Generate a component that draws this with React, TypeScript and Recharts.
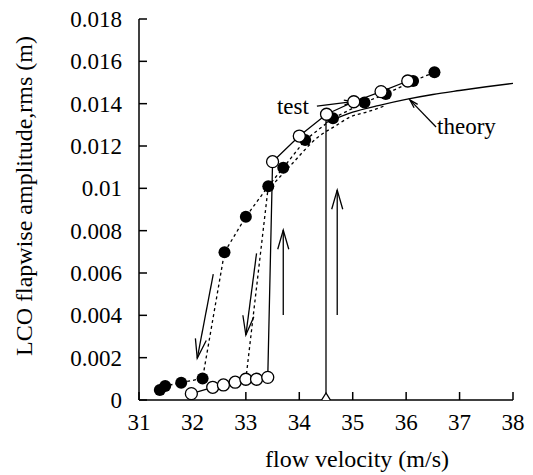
import { ComposedChart, Scatter, XAxis, YAxis, ReferenceLine, Label } from 'recharts';

const FONT = '"Liberation Serif", "Times New Roman", serif';

const xTicks = [31, 32, 33, 34, 35, 36, 37, 38];
const yTicks = [0, 0.002, 0.004, 0.006, 0.008, 0.01, 0.012, 0.014, 0.016, 0.018];
const yTickLabels = ['0', '0.002', '0.004', '0.006', '0.008', '0.01', '0.012', '0.014', '0.016', '0.018'];

// test, increasing speed (open circles, solid line)
const openVelocity = [31.98, 32.38, 32.58, 32.8, 33.0, 33.2, 33.41, 33.5, 34.0, 34.51, 35.02, 35.53, 36.03];
const openAmplitude = [0.0003, 0.0006, 0.00071, 0.00084, 0.00098, 0.00098, 0.00107, 0.01126, 0.01247, 0.0135, 0.01409, 0.01457, 0.01507];

// test, decreasing speed (filled circles, dashed line)
const filledVelocity = [36.53, 36.13, 35.62, 35.22, 34.63, 34.11, 33.7, 33.42, 33.0, 32.6, 32.19, 31.79, 31.49, 31.39];
const filledAmplitude = [0.01548, 0.01507, 0.01446, 0.01406, 0.01331, 0.01228, 0.01097, 0.0101, 0.00866, 0.00698, 0.00102, 0.00082, 0.00066, 0.00047];

// second drop-down branch
const dropVelocity = [33.42, 33.0];
const dropAmplitude = [0.0101, 0.00098];

// dashed branch below the test curves
const dashVelocity = [33.55, 33.88, 34.33, 34.71, 34.95, 35.27, 35.6];
const dashAmplitude = [0.0103, 0.0112, 0.01238, 0.013, 0.01337, 0.01361, 0.0139];

// theory
const theoryVelocity = [34.5, 35.0, 35.5, 36.0, 36.5, 37.0, 37.5, 38.0];
const theoryAmplitude = [0.0131, 0.0136, 0.01392, 0.0142, 0.01443, 0.01462, 0.0148, 0.01496];

const onsetVelocity = [34.5, 34.5];
const onsetAmplitude = [0, 0.0132];

// arrows: [x1, y1, x2, y2]
const hysteresisArrows = [
  [32.39, 0.00595, 32.09, 0.00197],
  [33.2, 0.00693, 33.0, 0.00307],
  [33.7, 0.00402, 33.7, 0.00803],
  [34.71, 0.00402, 34.71, 0.00992],
];
const testArrow = [34.33, 0.01388, 35.0, 0.0141];
const theoryArrow = [36.56, 0.0129, 36.07, 0.01418];

const pts = (xs: number[], ys: number[]) => xs.map((x, i) => ({ x, y: ys[i] }));

const filledDot = (p: any) => <circle cx={p.cx} cy={p.cy} r={6} fill="#000" />;
const openDot = (p: any) => <circle cx={p.cx} cy={p.cy} r={6} fill="#fff" stroke="#000" strokeWidth={1.3} />;
const noDot = () => <g />;
const triangleDot = (p: any) => (
  <polygon
    points={`${p.cx},${p.cy - 7} ${p.cx - 5},${p.cy + 1} ${p.cx + 5},${p.cy + 1}`}
    fill="#fff"
    stroke="#000"
    strokeWidth={1.3}
  />
);

function arrowShape(head: number, text?: string, side?: 'left' | 'right') {
  return (p: any) => {
    const { x1, y1, x2, y2 } = p;
    const ang = Math.atan2(y2 - y1, x2 - x1);
    const a = 0.28;
    const ax = x2 - head * Math.cos(ang - a);
    const ay = y2 - head * Math.sin(ang - a);
    const bx = x2 - head * Math.cos(ang + a);
    const by = y2 - head * Math.sin(ang + a);
    return (
      <g>
        <line x1={x1} y1={y1} x2={x2} y2={y2} stroke="#000" strokeWidth={1.3} />
        <polyline points={`${ax},${ay} ${x2},${y2} ${bx},${by}`} fill="none" stroke="#000" strokeWidth={1.3} />
        {text && (
          <text
            x={side === 'left' ? x1 - 8 : x1 + 1}
            y={y1}
            textAnchor={side === 'left' ? 'end' : 'start'}
            dominantBaseline="central"
            fontFamily={FONT}
            fontSize={23}
            fill="#000"
          >
            {text}
          </text>
        )}
      </g>
    );
  };
}

const seg = (a: number[]) => [{ x: a[0], y: a[1] }, { x: a[2], y: a[3] }];

export default function App() {
  const tickStyle = { fill: '#000', fontSize: 23, fontFamily: FONT };
  return (
    <div style={{ position: 'absolute', left: 0, top: 0, background: '#fff' }}>
      <ComposedChart width={533} height={475} margin={{ top: 19, right: 20, bottom: 0, left: 0 }}>
        <XAxis
          dataKey="x"
          type="number"
          domain={[31, 38]}
          ticks={xTicks}
          allowDataOverflow
          height={75}
          tickSize={-8}
          tickMargin={22}
          tick={tickStyle}
          stroke="#000"
          strokeWidth={1.5}
        >
          <Label
            content={({ viewBox }: any) => (
              <text
                x={viewBox.x + viewBox.width / 2 + 31}
                y={viewBox.y + viewBox.height - 8}
                textAnchor="middle"
                fontFamily={FONT}
                fontSize={24}
                fill="#000"
              >
                flow velocity (m/s)
              </text>
            )}
          />
        </XAxis>
        <XAxis
          xAxisId="top"
          orientation="top"
          dataKey="x"
          type="number"
          domain={[31, 38]}
          ticks={xTicks}
          allowDataOverflow
          height={0}
          tickSize={-8}
          tickFormatter={() => ''}
          stroke="#000"
          strokeWidth={1.5}
        />
        <YAxis
          dataKey="y"
          type="number"
          domain={[0, 0.018]}
          ticks={yTicks}
          allowDataOverflow
          width={139}
          tickSize={-8}
          tickMargin={25}
          tick={tickStyle}
          tickFormatter={(_v: number, i: number) => yTickLabels[i]}
          stroke="#000"
          strokeWidth={1.5}
        >
          <Label
            content={() => (
              <text
                x={24}
                y={196}
                transform="rotate(-90, 24, 196)"
                textAnchor="middle"
                dominantBaseline="central"
                fontFamily={FONT}
                fontSize={24}
                fill="#000"
              >
                LCO flapwise amplitude,rms (m)
              </text>
            )}
          />
        </YAxis>
        <YAxis
          yAxisId="right"
          orientation="right"
          dataKey="y"
          type="number"
          domain={[0, 0.018]}
          ticks={yTicks}
          allowDataOverflow
          width={0}
          tickSize={-8}
          tickFormatter={() => ''}
          stroke="#000"
          strokeWidth={1.5}
        />

        <Scatter
          data={pts(dashVelocity, dashAmplitude)}
          shape={noDot}
          line={{ stroke: '#000', strokeWidth: 1.3, strokeDasharray: '3 3' }}
          lineJointType="monotone"
          isAnimationActive={false}
        />
        <Scatter
          data={pts(theoryVelocity, theoryAmplitude)}
          shape={noDot}
          line={{ stroke: '#000', strokeWidth: 1.4 }}
          lineJointType="monotone"
          isAnimationActive={false}
        />
        <Scatter
          data={pts(onsetVelocity, onsetAmplitude)}
          shape={noDot}
          line={{ stroke: '#000', strokeWidth: 1.3 }}
          isAnimationActive={false}
        />
        <Scatter data={[{ x: onsetVelocity[0], y: onsetAmplitude[0] }]} shape={triangleDot} isAnimationActive={false} />
        <Scatter
          data={pts(dropVelocity, dropAmplitude)}
          shape={noDot}
          line={{ stroke: '#000', strokeWidth: 1.3, strokeDasharray: '3 3' }}
          isAnimationActive={false}
        />
        <Scatter
          data={pts(filledVelocity, filledAmplitude)}
          shape={filledDot}
          line={{ stroke: '#000', strokeWidth: 1.3, strokeDasharray: '3 3' }}
          isAnimationActive={false}
        />
        <Scatter
          data={pts(openVelocity, openAmplitude)}
          shape={openDot}
          line={{ stroke: '#000', strokeWidth: 1.3 }}
          isAnimationActive={false}
        />

        {hysteresisArrows.map((a, i) => (
          <ReferenceLine key={i} segment={seg(a)} shape={arrowShape(20)} ifOverflow="visible" />
        ))}
        <ReferenceLine segment={seg(testArrow)} shape={arrowShape(9, 'test', 'left')} ifOverflow="visible" />
        <ReferenceLine segment={seg(theoryArrow)} shape={arrowShape(9, 'theory', 'right')} ifOverflow="visible" />
      </ComposedChart>
    </div>
  );
}
